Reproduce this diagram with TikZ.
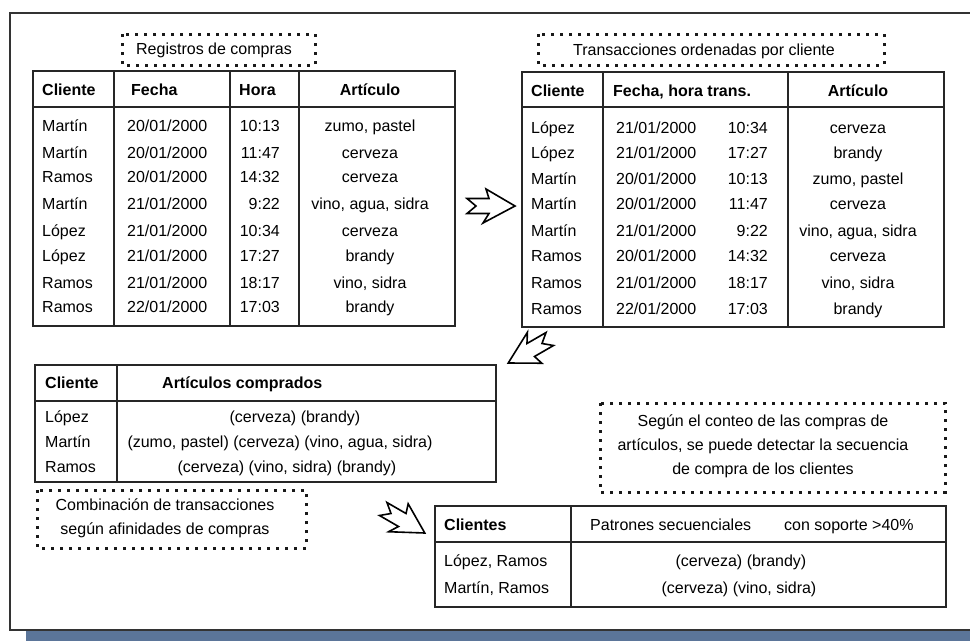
\documentclass[tikz,border=0pt]{standalone}
\usepackage{fontspec}
\setmainfont{Liberation Sans}
\definecolor{barblue}{RGB}{91,117,153}
\tikzset{fatarrow/.pic={\draw[line width=1.6pt,line join=miter,fill=white] (-24,-7.5) -- (-2,-7.5) -- (-5,-17) -- (24,0) -- (-8,17) -- (-2,7.5) -- (-24,7.5) -- (-15,0) -- cycle;}}

\begin{document}
\begin{tikzpicture}[x=1pt,y=-1pt,
    cell/.style={inner sep=0pt,text height=11.5pt,text depth=0pt,font=\fontsize{16}{24}\selectfont},
    head/.style={cell,font=\fontsize{16}{24}\selectfont\bfseries},
    grid/.style={line width=2pt,draw=black!85},
    note/.style={draw=black!90,line width=3pt,dash pattern=on 3pt off 6pt},
    remark/.style={inner sep=0pt,align=center,font=\fontsize{16}{24}\selectfont}]
      \useasboundingbox (0,0) rectangle (970,641);
      \fill[barblue] (26,631) rectangle (970,641);
      \draw[line width=2pt,black!80] (970,13) -- (9.5,13) -- (9.5,630) -- (970,630);
      % registros
      \draw[note] (122,34) rectangle (315,65);
      \node[cell] (reg) at (214,49) {Registros de compras};
      \draw[grid] (33,71) rectangle (455,326) (33,107) -- (455,107) (114,71) -- (114,326) (230,71) -- (230,326) (299,71) -- (299,326);
      \node[head,anchor=west] (ra0) at (42,90) {Cliente}; \node[head,anchor=west] (rb0) at (131,90) {Fecha}; \node[head,anchor=west] (rc0) at (239,90) {Hora}; \node[head] (rd0) at (370,90) {Artículo};
      \node[cell,anchor=west] (ra1) at (42,126) {Martín}; \node[cell,anchor=west] (rb1) at (127,126) {20/01/2000}; \node[cell,anchor=east] (rc1) at (280,126) {10:13}; \node[cell] (rd1) at (370,126) {zumo, pastel};
      \node[cell,anchor=west] (ra2) at (42,153) {Martín}; \node[cell,anchor=west] (rb2) at (127,153) {20/01/2000}; \node[cell,anchor=east] (rc2) at (280,153) {11:47}; \node[cell] (rd2) at (370,153) {cerveza};
      \node[cell,anchor=west] (ra3) at (42,177) {Ramos}; \node[cell,anchor=west] (rb3) at (127,177) {20/01/2000}; \node[cell,anchor=east] (rc3) at (280,177) {14:32}; \node[cell] (rd3) at (370,177) {cerveza};
      \node[cell,anchor=west] (ra4) at (42,204) {Martín}; \node[cell,anchor=west] (rb4) at (127,204) {21/01/2000}; \node[cell,anchor=east] (rc4) at (280,204) {9:22}; \node[cell] (rd4) at (370,204) {vino, agua, sidra};
      \node[cell,anchor=west] (ra5) at (42,231) {López}; \node[cell,anchor=west] (rb5) at (127,231) {21/01/2000}; \node[cell,anchor=east] (rc5) at (280,231) {10:34}; \node[cell] (rd5) at (370,231) {cerveza};
      \node[cell,anchor=west] (ra6) at (42,256) {López}; \node[cell,anchor=west] (rb6) at (127,256) {21/01/2000}; \node[cell,anchor=east] (rc6) at (280,256) {17:27}; \node[cell] (rd6) at (370,256) {brandy};
      \node[cell,anchor=west] (ra7) at (42,283) {Ramos}; \node[cell,anchor=west] (rb7) at (127,283) {21/01/2000}; \node[cell,anchor=east] (rc7) at (280,283) {18:17}; \node[cell] (rd7) at (370,283) {vino, sidra};
      \node[cell,anchor=west] (ra8) at (42,307) {Ramos}; \node[cell,anchor=west] (rb8) at (127,307) {22/01/2000}; \node[cell,anchor=east] (rc8) at (280,307) {17:03}; \node[cell] (rd8) at (370,307) {brandy};
      % ordenadas por cliente
      \draw[note] (538,34) rectangle (884,65);
      \node[cell] (ord) at (704,50) {Transacciones ordenadas por cliente};
      \draw[grid] (522,72) rectangle (944,327) (522,107) -- (944,107) (603,72) -- (603,327) (788,72) -- (788,327);
      \node[head,anchor=west] (oa0) at (531,91) {Cliente}; \node[head,anchor=west] (ob0) at (613,91) {Fecha, hora trans.}; \node[head] (od0) at (858,91) {Artículo};
      \node[cell,anchor=west] (oa1) at (531,128) {López}; \node[cell,anchor=west] (ob1) at (616,128) {21/01/2000}; \node[cell,anchor=east] (oc1) at (768,128) {10:34}; \node[cell] (od1) at (858,128) {cerveza};
      \node[cell,anchor=west] (oa2) at (531,153) {López}; \node[cell,anchor=west] (ob2) at (616,153) {21/01/2000}; \node[cell,anchor=east] (oc2) at (768,153) {17:27}; \node[cell] (od2) at (858,153) {brandy};
      \node[cell,anchor=west] (oa3) at (531,179) {Martín}; \node[cell,anchor=west] (ob3) at (616,179) {20/01/2000}; \node[cell,anchor=east] (oc3) at (768,179) {10:13}; \node[cell] (od3) at (858,179) {zumo, pastel};
      \node[cell,anchor=west] (oa4) at (531,204) {Martín}; \node[cell,anchor=west] (ob4) at (616,204) {20/01/2000}; \node[cell,anchor=east] (oc4) at (768,204) {11:47}; \node[cell] (od4) at (858,204) {cerveza};
      \node[cell,anchor=west] (oa5) at (531,231) {Martín}; \node[cell,anchor=west] (ob5) at (616,231) {21/01/2000}; \node[cell,anchor=east] (oc5) at (768,231) {9:22}; \node[cell] (od5) at (858,231) {vino, agua, sidra};
      \node[cell,anchor=west] (oa6) at (531,256) {Ramos}; \node[cell,anchor=west] (ob6) at (616,256) {20/01/2000}; \node[cell,anchor=east] (oc6) at (768,256) {14:32}; \node[cell] (od6) at (858,256) {cerveza};
      \node[cell,anchor=west] (oa7) at (531,283) {Ramos}; \node[cell,anchor=west] (ob7) at (616,283) {21/01/2000}; \node[cell,anchor=east] (oc7) at (768,283) {18:17}; \node[cell] (od7) at (858,283) {vino, sidra};
      \node[cell,anchor=west] (oa8) at (531,309) {Ramos}; \node[cell,anchor=west] (ob8) at (616,309) {22/01/2000}; \node[cell,anchor=east] (oc8) at (768,309) {17:03}; \node[cell] (od8) at (858,309) {brandy};
      % flechas
      \pic at (491,206) {fatarrow};
      \pic[rotate=210] at (529,351) {fatarrow};
      \pic[rotate=-30] at (404,521) {fatarrow};
      % articulos comprados
      \draw[grid] (35,365) rectangle (496,482) (35,401) -- (496,401) (117,365) -- (117,482);
      \node[head,anchor=west] (ca0) at (45,383) {Cliente}; \node[head,anchor=west] (cb0) at (162,383) {Artículos comprados};
      \node[cell,anchor=west] (ca1) at (45,417) {López}; \node[cell] (cb1) at (295,417) {(cerveza) (brandy)};
      \node[cell,anchor=west] (ca2) at (45,442) {Martín}; \node[cell] (cb2) at (280,442) {(zumo, pastel) (cerveza) (vino, agua, sidra)};
      \node[cell,anchor=west] (ca3) at (45,467) {Ramos}; \node[cell] (cb3) at (287,467) {(cerveza) (vino, sidra) (brandy)};
      \draw[note] (37,490) rectangle (306,548);
      \node[remark] (comb) at (165,518.5) {Combinación de transacciones\\según afinidades de compras};
      % patrones
      \draw[note] (600,403) rectangle (945,492);
      \node[remark] (conteo) at (763,446.5) {Según el conteo de las compras de\\artículos, se puede detectar la secuencia\\de compra de los clientes};
      \draw[grid] (435,506) rectangle (946,607) (435,542) -- (946,542) (571,506) -- (571,607);
      \node[head,anchor=west] (pa0) at (444,525) {Clientes}; \node[cell,anchor=west] (pb0) at (590,525) {Patrones secuenciales}; \node[cell,anchor=west] (pc0) at (784,525) {con soporte >40\%};
      \node[cell,anchor=west] (pa1) at (444,561) {López, Ramos}; \node[cell] (pb1) at (741,561) {(cerveza) (brandy)};
      \node[cell,anchor=west] (pa2) at (444,588) {Martín, Ramos}; \node[cell] (pb2) at (739,588) {(cerveza) (vino, sidra)};
\end{tikzpicture}
\end{document}
